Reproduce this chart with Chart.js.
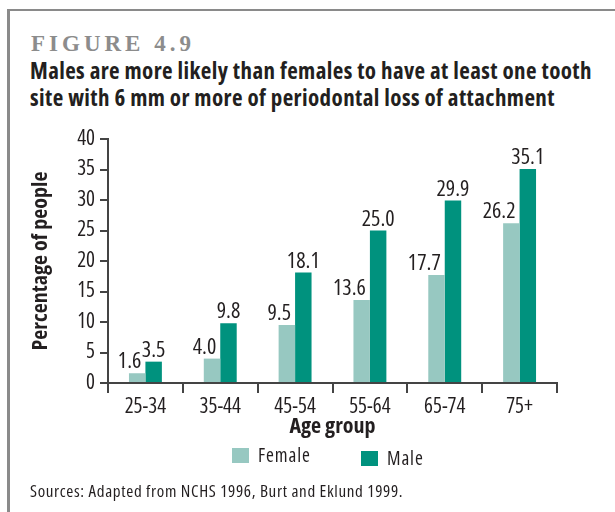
<!DOCTYPE html>
<html lang="en">
<head>
    <meta charset="UTF-8">
    <title>Figure 4.9</title>
    <script src="https://cdn.jsdelivr.net/npm/chart.js"></script>
    <style>
        body {
            margin: 0;
            width: 615px;
            height: 512px;
            overflow: hidden;
            background: #fff;
            color: #231f20;
            font-family: 'Open Sans', sans-serif;
            font-stretch: 75%;
            position: relative;
        }
        .frame {
            position: absolute;
            left: 7px;
            top: 9px;
            width: 620px;
            height: 520px;
            border-top: 2px solid #8a8a8a;
            border-left: 3px solid #8a8a8a;
        }
        .fig {
            position: absolute;
            left: 31px;
            top: 32px;
            font-family: 'Liberation Serif', serif;
            font-stretch: normal;
            font-weight: bold;
            font-size: 23px;
            line-height: 23px;
            letter-spacing: 4px;
            color: #8c8c8c;
        }
        .title {
            position: absolute;
            left: 30px;
            top: 57px;
            font-size: 23px;
            line-height: 27px;
            font-weight: bold;
            letter-spacing: 0.4px;
            white-space: nowrap;
        }
        canvas { position: absolute; left: 0; top: 0; }
        .swatch { position: absolute; width: 17px; height: 15px; }
        .lab { position: absolute; font-size: 19px; line-height: 19px; letter-spacing: 0.9px; }
        .source {
            position: absolute;
            left: 30px;
            top: 481px;
            font-size: 17px;
            line-height: 20px;
            letter-spacing: 0.65px;
            white-space: nowrap;
        }
    </style>
</head>
<body>
    <div class="frame"></div>
    <div class="fig">FIGURE 4.9</div>
    <div class="title">Males are more likely than females to have at least one tooth<br>site with 6 mm or more of periodontal loss of attachment</div>
    <canvas id="chart" width="615" height="512"></canvas>

    <div class="swatch" style="left:232px;top:448px;background:#97c8c1"></div>
    <div class="lab" style="left:258px;top:446px">Female</div>
    <div class="swatch" style="left:361px;top:451px;background:#00927e"></div>
    <div class="lab" style="left:387px;top:449px">Male</div>

    <div class="source">Sources: Adapted from NCHS 1996, Burt and Eklund 1999.</div>

    <script>
        const ageGroups = ['25-34', '35-44', '45-54', '55-64', '65-74', '75+'];
        const female = [1.6, 4.0, 9.5, 13.6, 17.7, 26.2];
        const male = [3.5, 9.8, 18.1, 25.0, 29.9, 35.1];
        const seriesNames = ['Female', 'Male'];
        const seriesColors = ['#97c8c1', '#00927e'];

        const ink = '#231f20';
        const fam = "'Open Sans', sans-serif";

        // value labels above bars (female ones pushed left so they clear the male bar)
        const valueLabels = {
            id: 'valueLabels',
            afterDatasetsDraw(chart) {
                const ctx = chart.ctx;
                ctx.save();
                ctx.font = "normal condensed 22px " + fam;
                ctx.fillStyle = ink;
                ctx.textBaseline = 'alphabetic';
                chart.data.datasets.forEach((ds, i) => {
                    chart.getDatasetMeta(i).data.forEach((bar, j) => {
                        const txt = ds.data[j].toFixed(1);
                        if (i === 0) {
                            ctx.textAlign = 'right';
                            ctx.fillText(txt, bar.x + bar.width / 2 - 4, bar.y - 5);
                        } else {
                            ctx.textAlign = 'center';
                            ctx.fillText(txt, bar.x, bar.y - 5);
                        }
                    });
                });
                ctx.restore();
            }
        };

        new Chart(document.getElementById('chart'), {
            type: 'bar',
            data: {
                labels: ageGroups,
                datasets: [
                    { label: seriesNames[0], data: female, backgroundColor: seriesColors[0] },
                    { label: seriesNames[1], data: male, backgroundColor: seriesColors[1] }
                ]
            },
            options: {
                responsive: false,
                animation: false,
                devicePixelRatio: 1,
                categoryPercentage: 0.44,
                barPercentage: 1.0,
                layout: { padding: { left: 25, right: 58, top: 139, bottom: 69 } },
                plugins: {
                    legend: { display: false },
                    tooltip: { enabled: false }
                },
                scales: {
                    x: {
                        afterFit(scale) { scale.height = 60; },
                        border: { color: '#444', width: 2 },
                        grid: { display: true, offset: true, drawOnChartArea: false, drawTicks: true, tickLength: 10, color: '#444', lineWidth: 2 },
                        ticks: { color: ink, padding: 1, font: { family: fam, weight: 'condensed', size: 21 } },
                        title: { display: true, text: 'Age group', color: ink, padding: { top: 0, bottom: 3 }, font: { family: fam, weight: 'bold condensed', size: 22 } }
                    },
                    y: {
                        min: 0,
                        max: 40,
                        afterFit(scale) { scale.width = 83; },
                        border: { color: '#444', width: 2 },
                        grid: { display: true, drawOnChartArea: false, drawTicks: true, tickLength: 8, color: '#444', lineWidth: 2 },
                        ticks: { stepSize: 5, color: ink, padding: 5, font: { family: fam, weight: 'condensed', size: 21 } },
                        title: { display: true, text: 'Percentage of people', color: ink, padding: { top: 3, bottom: 0 }, font: { family: fam, weight: 'bold condensed', size: 22 } }
                    }
                }
            },
            plugins: [valueLabels]
        });
    </script>
</body>
</html>
